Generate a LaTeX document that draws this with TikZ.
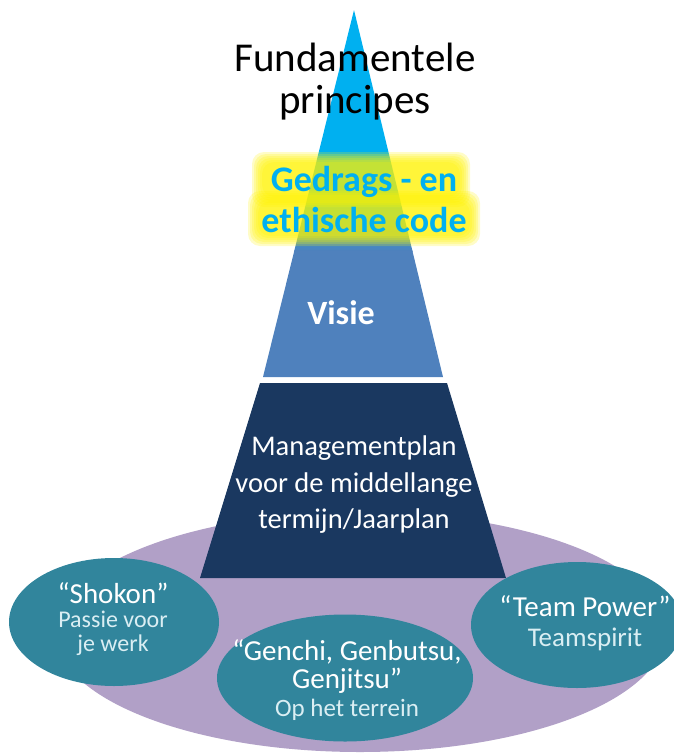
\documentclass[tikz,border=0pt]{standalone}
\usepackage{fontspec}
\setmainfont{Carlito}
\usepackage{xcolor}
\usetikzlibrary{shapes.geometric, calc, positioning}

\definecolor{topblue}{HTML}{00B0F0}
\definecolor{midblue}{HTML}{4F81BD}
\definecolor{navyplan}{HTML}{1A3860}
\definecolor{lilac}{HTML}{B1A0C7}
\definecolor{tealblob}{HTML}{31859C}
\definecolor{paletext}{HTML}{DAEEF3}

\newcommand{\bigline}[1]{{\fontsize{29}{25}\selectfont\color{white}#1}}

\begin{document}
\begin{tikzpicture}[x=1pt, y=-1pt,
    blob/.style={ellipse, fill=tealblob, inner sep=0pt},
    blobtext/.style={align=center, inner sep=0pt, text=paletext},
    title/.style={align=center, inner sep=0pt},
    halo/.style={fill=yellow, opacity=0.22, rounded corners=12}]
\useasboundingbox (0,0) rectangle (674,753);

\fill[lilac] (360,632) ellipse [x radius=305, y radius=120];

\coordinate (apex) at (354,10);
\coordinate (vL) at (263,377);
\coordinate (vR) at (443,377);
\coordinate (pL) at (260,383);
\coordinate (pR) at (447,383);
\coordinate (bL) at (200,578);
\coordinate (bR) at (506,578);

\fill[topblue] (apex) -- ($(apex)!0.54!(vL)$) -- ($(apex)!0.54!(vR)$) -- cycle;
\shade[top color=topblue, bottom color=midblue]
  ($(apex)!0.535!(vL)$) -- ($(apex)!0.66!(vL)$) -- ($(apex)!0.66!(vR)$) -- ($(apex)!0.535!(vR)$) -- cycle;
\fill[midblue] ($(apex)!0.655!(vL)$) -- (vL) -- (vR) -- ($(apex)!0.655!(vR)$) -- cycle;
\fill[navyplan] (pL) -- (pR) -- (bR) -- (bL) -- cycle;

\node[title, font=\fontsize{41}{42}\selectfont] (principes) at (355,82) {Fundamentele\\principes};

\foreach \g in {0,...,5} {
  \fill[halo] (262-2*\g,162-2*\g) rectangle (460+2*\g,197+2*\g);
  \fill[halo] (258-2*\g,201-2*\g) rectangle (470+2*\g,236+2*\g);
}
\node[title, text=topblue, font=\fontsize{36}{41}\selectfont\bfseries] (code) at (364,199)
  {Gedrags - en\\ethische code};

\node[title, text=white, font=\fontsize{34}{40}\selectfont\bfseries] (visie) at (341,313) {Visie};

\node[title, text=white, font=\fontsize{28.5}{36.5}\selectfont] (plan) at (354,485)
  {Managementplan\\voor de middellange\\termijn/Jaarplan};

\node[blob, minimum width=210, minimum height=128] (shokon) at (114,622) {};
\node[blob, minimum width=256, minimum height=127] (genchi) at (345,678) {};
\node[blob, minimum width=212, minimum height=126] (team) at (577,625) {};

\node[blobtext, font=\fontsize{24}{24}\selectfont] (shokontext) at (113,619)
  {\bigline{“Shokon”}\\Passie voor\\je werk};
\node[blobtext, font=\fontsize{25}{28}\selectfont] (genchitext) at (347,680)
  {\bigline{“Genchi, Genbutsu,}\\\bigline{Genjitsu”}\\Op het terrein};
\node[blobtext, font=\fontsize{27}{30}\selectfont] (teamtext) at (585,623)
  {\bigline{“Team Power”}\\Teamspirit};
\end{tikzpicture}
\end{document}
